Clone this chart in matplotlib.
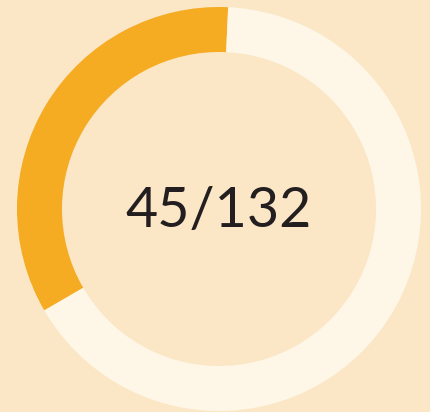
import matplotlib
matplotlib.use("Agg")
import matplotlib.pyplot as plt

# progress donut: done vs total
done = 45
total = 132
values = [done, total - done]
labels = ["done", "remaining"]
colors = ["#F5AB22", "#FEF6E7"]
bg = "#FBE7C6"

fig = plt.figure(figsize=(4.3, 4.12), dpi=100, facecolor=bg)
ax = fig.add_axes([0, 0, 1, 1])
ax.set_facecolor(bg)

ax.pie(values, colors=colors, radius=202, center=(219, 203),
       startangle=87.4, counterclock=True, frame=True,
       wedgeprops=dict(width=45, linewidth=0))

ax.text(219, 185, f"{done}/{total}", ha="center", va="baseline",
        fontsize=40, family="Lato", color="#231F20")

ax.set_xlim(0, 430)
ax.set_ylim(0, 412)
ax.axis("off")

fig.savefig("out.png", dpi=100, facecolor=bg)
